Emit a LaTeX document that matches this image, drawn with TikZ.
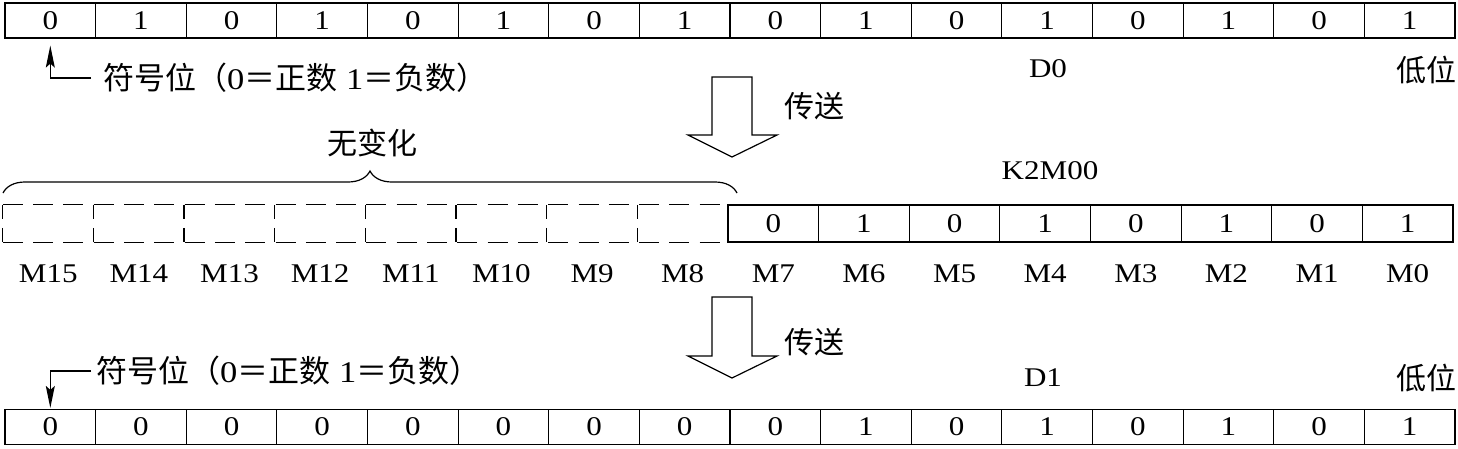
\documentclass[tikz,border=0pt]{standalone}
\usepackage{fontspec}
\setmainfont{Liberation Serif}[FakeStretch=1.15]
\newfontfamily\cjk{Noto Sans CJK SC}
\usetikzlibrary{decorations.pathreplacing,arrows.meta}
\begin{document}
\begin{tikzpicture}[x=1pt,y=-1pt,
  every node/.style={font=\fontsize{27}{30}\selectfont},
  cell/.style={draw,line width=1.2pt,minimum width=90.625pt,minimum height=35pt,inner sep=0pt},
  dcell/.style={minimum width=90.625pt,minimum height=37pt,inner sep=0pt},
  scell/.style={draw,line width=1.2pt,minimum width=90.625pt,minimum height=37pt,inner sep=0pt},
  dline/.style={line width=1.2pt,dash pattern=on 20pt off 10.3pt},
  vdline/.style={line width=1.2pt,dash pattern=on 14pt off 9pt},
  hollow/.style={draw,line width=1.2pt,fill=white,line join=miter},
  lbl/.style={inner sep=0pt},
  cjklbl/.style={inner sep=0pt,font=\fontsize{30}{32}\cjk},
  signlbl/.style={inner sep=0pt,anchor=west,font=\fontsize{30}{32}\selectfont},
  sarrow/.style={line width=1.3pt,-{Stealth[length=22pt,width=9pt,inset=4pt]}}
]
\useasboundingbox (0,0) rectangle (1458,448);
% top row D0
\foreach \i/\v in {0/0,1/1,2/0,3/1,4/0,5/1,6/0,7/1,8/0,9/1,10/0,11/1,12/0,13/1,14/0,15/1}{
  \node[cell] (t\i) at ({5+90.625*\i+45.3125},20.5) {\v};
}
% middle row
\foreach \i/\n in {0/15,1/14,2/13,3/12,4/11,5/10,6/9,7/8}{
  \node[dcell] (m\n) at ({3+90.625*\i+45.3125},223.5) {};
  \node[lbl] (lm\n) at ({3+90.625*\i+45.3125},274) {M\n};
  \draw[vdline] (m\n.north west) -- (m\n.south west);
}
\draw[dline] (m15.north west) -- (m8.north east);
\draw[dline] (m15.south west) -- (m8.south east);
\foreach \i/\n/\v in {8/7/0,9/6/1,10/5/0,11/4/1,12/3/0,13/2/1,14/1/0,15/0/1}{
  \node[scell] (m\n) at ({3+90.625*\i+45.3125},223.5) {\v};
  \node[lbl] (lm\n) at ({3+90.625*\i+45.3125},274) {M\n};
}
% bottom row D1
\foreach \i/\v in {0/0,1/0,2/0,3/0,4/0,5/0,6/0,7/0,8/0,9/1,10/0,11/1,12/0,13/1,14/0,15/1}{
  \node[cell] (b\i) at ({5+90.625*\i+45.3125},427) {\v};
}
% labels
\node[lbl] (d0) at (1048,69) {D0};
\node[cjklbl] (low0) at (1426,70) {低位};
\node[lbl] (k2m) at (1050,171) {K2M00};
\node[lbl] (d1) at (1043,378) {D1};
\node[cjklbl] (low1) at (1426,378) {低位};
\node[cjklbl] (nochg) at (372,143) {无变化};
\node[cjklbl] (tx1) at (814,106) {传送};
\node[cjklbl] (tx2) at (814,342) {传送};
% sign labels
\node[signlbl] (s1) at (103,78) {{\fontsize{31}{32}\cjk 符号位（}0{\fontsize{31}{32}\cjk ＝正数} 1{\fontsize{31}{32}\cjk ＝负数）}};
\node[signlbl] (s2) at (96,371) {{\fontsize{31}{32}\cjk 符号位（}0{\fontsize{31}{32}\cjk ＝正数} 1{\fontsize{31}{32}\cjk ＝负数）}};
\coordinate (s1end) at (91,78);
\coordinate (s2end) at (91,371);
\draw[sarrow] (s1end) -| ([yshift=-7pt]t0.south);
\draw[sarrow] (s2end) -| ([yshift=1pt]b0.north);
% brace
\draw[line width=1.2pt,decorate,decoration={brace,amplitude=22pt,aspect=0.5}] (3,193) -- (737,193);
% hollow arrows
\draw[hollow] (712,77) -- (752,77) -- (752,135) -- (777,135) -- (732,157) -- (688,135) -- (712,135) -- cycle;
\draw[hollow] (712,297) -- (752,297) -- (752,356) -- (777,356) -- (732,378) -- (688,356) -- (712,356) -- cycle;
\end{tikzpicture}
\end{document}
